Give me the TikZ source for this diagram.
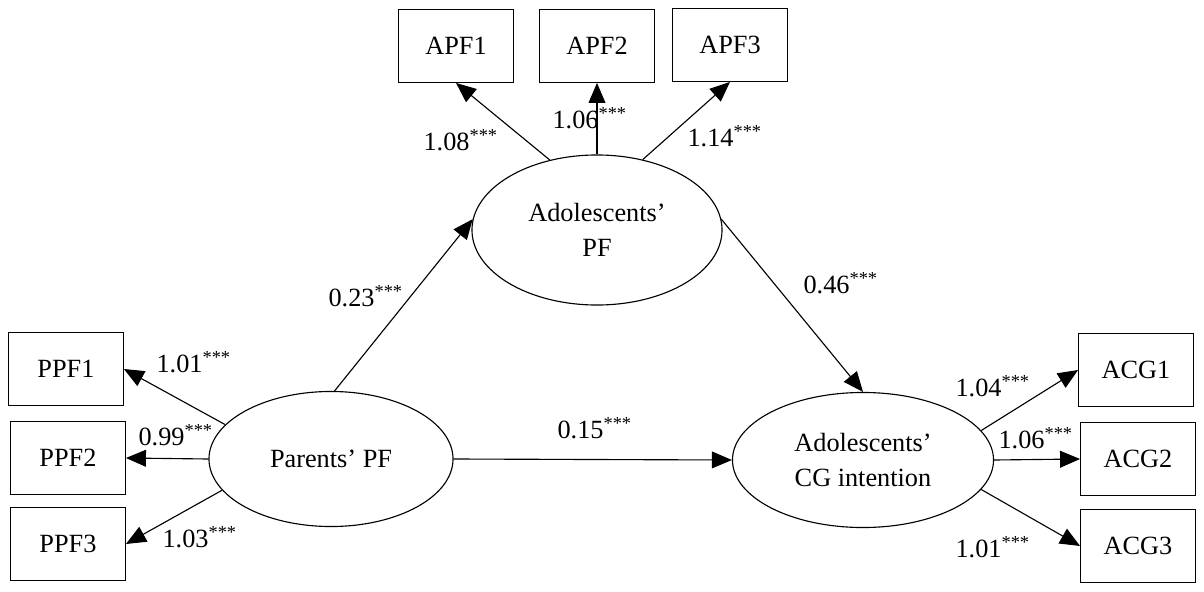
\documentclass[tikz,border=0pt]{standalone}
\usepackage{fontspec}
\setmainfont{Liberation Serif}
\usetikzlibrary{shapes.geometric,arrows.meta}
\begin{document}
\begin{tikzpicture}[x=0.025cm, y=-0.025cm, line width=0.8pt,
		font=\fontsize{18.7}{25}\selectfont,
		obs/.style={rectangle,draw,minimum width=2.875cm,minimum height=1.825cm,line width=0.6pt},
		lat/.style={ellipse,draw,align=center,minimum height=3.375cm},
		arr/.style={-{Triangle[length=0.5cm,width=0.42cm]}},
		est/.style={anchor=base west,inner sep=0pt}
		]
	\useasboundingbox (0,0) rectangle (1204,592);
	% latent variables
	\node [lat,minimum width=6.25cm,minimum height=3.75cm] (apf) at (597,230) {Adolescents’\\PF};
	\node [lat,minimum width=6.1cm] (ppf) at (331,459) {Parents’ PF};
	\node [lat,minimum width=6.525cm] (acg) at (863,460) {Adolescents’\\CG intention};
	% indicators
	\node [obs] (apf1) at (456,46) {APF1};
	\node [obs] (apf2) at (597,46) {APF2};
	\node [obs] (apf3) at (730,45) {APF3};
	\node [obs] (ppf1) at (66,369) {PPF1};
	\node [obs] (ppf2) at (68,458) {PPF2};
	\node [obs] (ppf3) at (68,544) {PPF3};
	\node [obs] (acg1) at (1136,370) {ACG1};
	\node [obs] (acg2) at (1138,459) {ACG2};
	\node [obs] (acg3) at (1138,546) {ACG3};
	% paths
	\draw [arr] (apf.124) -- (apf1.south);
	\draw [arr] (apf.north) -- (apf2.south);
	\draw [arr] (apf.57) -- (apf3.south);
	\draw [arr] (ppf.87) -- (apf.175);
	\draw [arr] (apf.5) -- (acg.north);
	\draw [arr] (ppf.east) -- (acg.west);
	\draw [arr] (ppf.162) -- (ppf1.east);
	\draw [arr] (ppf.west) -- (ppf2.east);
	\draw [arr] (ppf.196) -- (ppf3.east);
	\draw [arr] (acg.14) -- (acg1.west);
	\draw [arr] (acg.east) -- (acg2.west);
	\draw [arr] (acg.-14) -- (acg3.west);
	% estimates
	\node [est] (e1) at (423,150) {1.08\textsuperscript{***}};
	\node [est] (e2) at (552,128) {1.06\textsuperscript{***}};
	\node [est] (e3) at (687,146) {1.14\textsuperscript{***}};
	\node [est] (e4) at (328,306) {0.23\textsuperscript{***}};
	\node [est] (e5) at (803,293) {0.46\textsuperscript{***}};
	\node [est] (e6) at (557,438) {0.15\textsuperscript{***}};
	\node [est] (e7) at (156,372) {1.01\textsuperscript{***}};
	\node [est] (e8) at (138,445) {0.99\textsuperscript{***}};
	\node [est] (e9) at (162,547) {1.03\textsuperscript{***}};
	\node [est] (e10) at (955,396) {1.04\textsuperscript{***}};
	\node [est] (e11) at (998,448) {1.06\textsuperscript{***}};
	\node [est] (e12) at (955,557) {1.01\textsuperscript{***}};
\end{tikzpicture}
\end{document}
